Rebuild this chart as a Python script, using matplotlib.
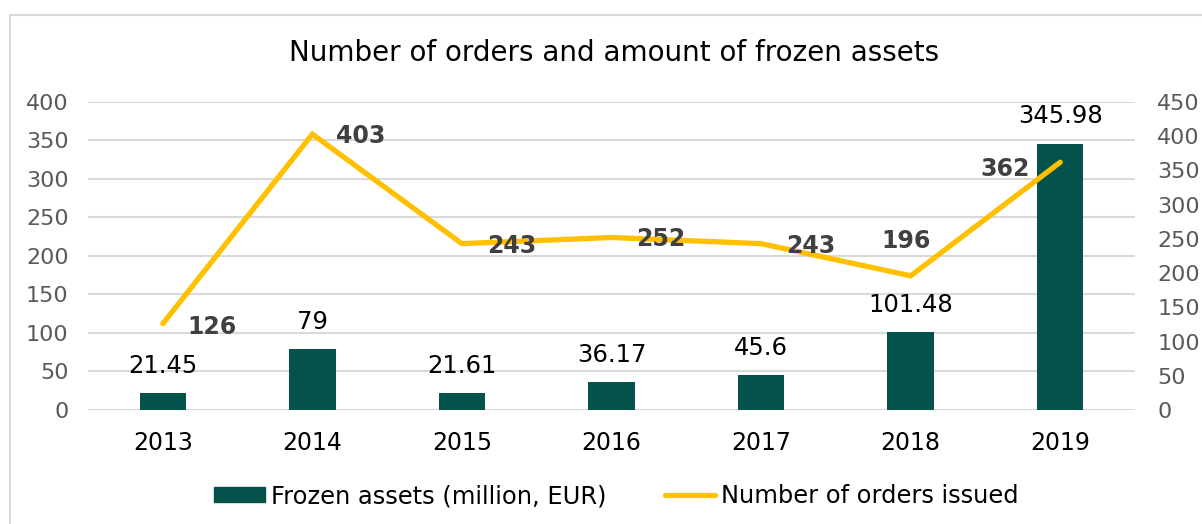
import matplotlib
matplotlib.use('Agg')
import matplotlib.pyplot as plt
from matplotlib.lines import Line2D
from matplotlib.patches import Patch

years = ['2013', '2014', '2015', '2016', '2017', '2018', '2019']
frozen_assets = [21.45, 79, 21.61, 36.17, 45.6, 101.48, 345.98]
orders_issued = [126, 403, 243, 252, 243, 196, 362]
asset_labels = ['21.45', '79', '21.61', '36.17', '45.6', '101.48', '345.98']

bar_color = '#03534C'
line_color = '#FFC000'
tick_color = '#595959'
grid_color = '#D9D9D9'

plt.rcParams['font.family'] = 'DejaVu Sans'

fig = plt.figure(figsize=(12.02, 5.24), dpi=100)
ax = fig.add_axes([0.0732, 0.2176, 0.8711, 0.5878])
ax2 = ax.twinx()

x = list(range(len(years)))
ax.bar(x, frozen_assets, width=0.31, color=bar_color, zorder=2)
ax.set_ylim(0, 400)
ax.set_xlim(-0.5, len(years) - 0.5)
ax.set_yticks(range(0, 401, 50))
ax.set_xticks(x)
ax.set_xticklabels(years)
ax.tick_params(axis='y', length=0, pad=14, labelsize=16, labelcolor=tick_color)
ax.tick_params(axis='x', length=0, pad=15, labelsize=17, labelcolor='black')
ax.grid(axis='y', color=grid_color, linewidth=1.5, zorder=0)
ax.set_axisbelow(True)
for s in ax.spines.values():
    s.set_visible(False)

for xi, v, lab in zip(x, frozen_assets, asset_labels):
    ax.annotate(lab, (xi, v), xytext=(0, 11), textcoords='offset points',
                ha='center', va='bottom', fontsize=17.5, color='black')

ax2.plot(x, orders_issued, color=line_color, linewidth=3.8,
         solid_capstyle='round', solid_joinstyle='miter', zorder=3)
ax2.set_ylim(0, 450)
ax2.set_yticks(range(0, 451, 50))
ax2.tick_params(axis='y', length=0, pad=16, labelsize=16, labelcolor=tick_color)
for s in ax2.spines.values():
    s.set_visible(False)

# label placement for the line series
offsets = [(18, -2, 'left'), (17, -1, 'left'), (18, -2, 'left'), (18, -1, 'left'),
           (18, -2, 'left'), (-3, 25, 'center'), (-22, -5, 'right')]
for xi, v, (dx, dy, ha) in zip(x, orders_issued, offsets):
    ax2.annotate(str(v), (xi, v), xytext=(dx, dy), textcoords='offset points',
                 ha=ha, va='center', fontsize=17, fontweight='bold', color='#404040')

fig.suptitle('Number of orders and amount of frozen assets', x=0.511, y=0.925,
             fontsize=20, color='black')

handles = [Patch(color=bar_color),
           Line2D([0], [0], color=line_color, linewidth=3.8, solid_capstyle='round')]
fig.legend(handles, ['Frozen assets (million, EUR)', 'Number of orders issued'],
           loc='center', bbox_to_anchor=(0.513, 0.053), ncol=2, frameon=False,
           fontsize=17.4, handlelength=2.1, handleheight=0.55, handletextpad=0.25,
           columnspacing=2.4)

# chart frame
fig.add_artist(Line2D([10 / 1202, 1], [1 - 15 / 524, 1 - 15 / 524],
                      transform=fig.transFigure, color=grid_color, linewidth=1.5))
fig.add_artist(Line2D([10 / 1202, 10 / 1202], [0, 1 - 15 / 524],
                      transform=fig.transFigure, color=grid_color, linewidth=1.5))

fig.savefig('out.png', dpi=100)
